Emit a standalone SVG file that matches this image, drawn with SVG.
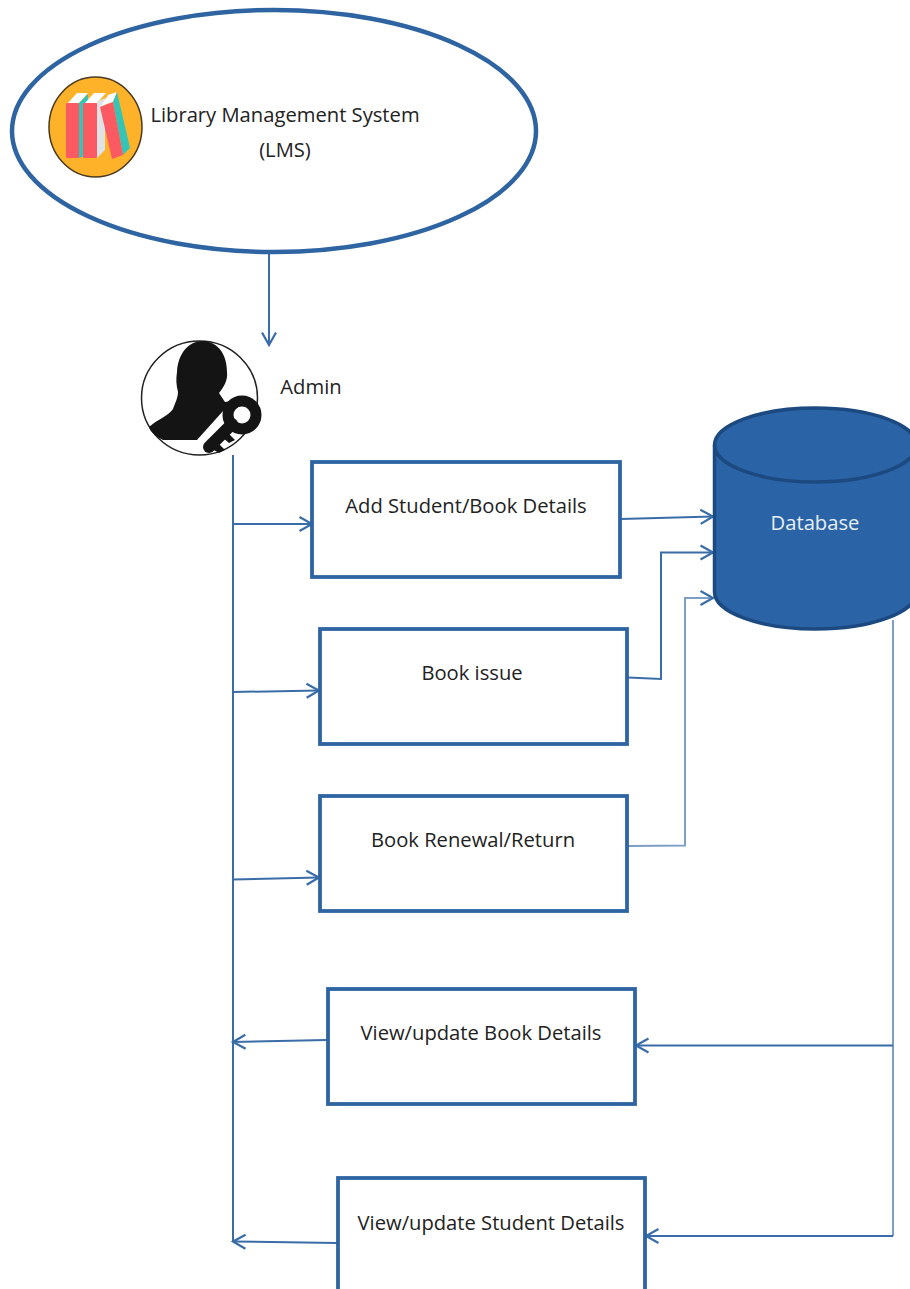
<svg xmlns="http://www.w3.org/2000/svg" width="910" height="1289" viewBox="0 0 910 1289">
<style>
text{font-family:"Open Sans","Noto Sans","Liberation Sans",sans-serif;font-size:20.2px;fill:#222;text-anchor:middle}
.box{fill:#fff;stroke:#2e64a2;stroke-width:3.8}
.c{fill:none;stroke:#3a6ca8;stroke-width:2}
.c2{fill:none;stroke:#7d9fc6;stroke-width:2}
.a{fill:none;stroke:#3a6ca8;stroke-width:2.200}
.db{stroke:#1c4a80;stroke-width:3.500}
</style>
<defs>
<marker id="ar" markerUnits="userSpaceOnUse" markerWidth="18" markerHeight="18" refX="14" refY="9" orient="auto"><path d="M1.500 2L14 9L1.500 16" class="a"/></marker>
</defs>
<rect width="910" height="1289" fill="#fff"/>
<g id="connectors">
<path class="c" d="M269 252V345" marker-end="url(#ar)"/>
<path class="c" d="M233 455V1242"/>
<path class="c" d="M233 524H312" marker-end="url(#ar)"/>
<path class="c" d="M233 692L319 690.500" marker-end="url(#ar)"/>
<path class="c" d="M233 879.500L319 877.500" marker-end="url(#ar)"/>
<path class="c" d="M621 519L713 516.500" marker-end="url(#ar)"/>
<path class="c" d="M628 677.500L661 679V552.500H713" marker-end="url(#ar)"/>
<path class="c2" d="M628 846L685 845.500V598H713" marker-end="url(#ar)"/>
<path class="c2" d="M893 620V1236"/>
<path class="c" d="M893 1045.500H636" marker-end="url(#ar)"/>
<path class="c" d="M893 1236H646" marker-end="url(#ar)"/>
<path class="c" d="M327 1040L233 1042" marker-end="url(#ar)"/>
<path class="c" d="M337 1243L233 1241.500" marker-end="url(#ar)"/>
</g>
<g id="lms">
<ellipse cx="274" cy="131" rx="262" ry="121" fill="#fff" stroke="#2e64a2" stroke-width="4.500"/>
<text x="285" y="121.500">Library Management System</text>
<text x="285" y="156.500">(LMS)</text>
<g id="lms-icon">
<ellipse cx="95.500" cy="127" rx="46.500" ry="50" fill="#fdb22a" stroke="#4a3a20" stroke-width="1.500"/>
<path d="M68 103L77 93H88L79 103Z" fill="#fff"/>
<path d="M79 103L88 94V155L79 158Z" fill="#35c4b5"/>
<rect x="66" y="103" width="13" height="55" rx="1" fill="#fb5a63"/>
<path d="M85 103L94 93H106L97 103Z" fill="#fff"/>
<path d="M97 102L105 98L105 150L97 158Z" fill="#dfe3e6"/>
<rect x="83" y="103" width="14" height="55" rx="1" fill="#fb5a63"/>
<path d="M101 106L108 95L117 92L113 102Z" fill="#fff"/>
<path d="M113 102L117 92L130 148L123 155Z" fill="#35c4b5"/>
<path d="M100 107L113 102L123 155L112 159Z" fill="#fb5a63"/>
</g>
</g>
<g id="admin">
<ellipse cx="199.500" cy="398" rx="58" ry="57" fill="#fff" stroke="#222" stroke-width="1.500"/>
<path d="M177 372C178 352 190 341 202 341C216 341 227 352 227 372C228 380 224 387 219 393L225 402L232 401L197 440L163 440C157 437 150 432 149 427C158 419 168 416 173 409C175 403 178 398 178 392C176 385 176 378 177 372Z" fill="#141414"/>
<circle cx="242" cy="415" r="14" fill="none" stroke="#141414" stroke-width="11"/>
<path d="M232 424L209 447" fill="none" stroke="#141414" stroke-width="12" stroke-linecap="round"/>
<path d="M217 442L225 450L219 453L212 449ZM227 432L235 440L229 443L222 437Z" fill="#141414"/>
<text x="311" y="394">Admin</text>
</g>
<g id="add-details"><rect class="box" x="312" y="462" width="308" height="115"/><text x="466" y="513">Add Student/Book Details</text></g>
<g id="book-issue"><rect class="box" x="320" y="629" width="307" height="115"/><text x="472" y="680">Book issue</text></g>
<g id="book-renewal"><rect class="box" x="320" y="796" width="307" height="115"/><text x="473" y="847">Book Renewal/Return</text></g>
<g id="view-book"><rect class="box" x="328" y="989" width="307" height="115"/><text x="481" y="1040">View/update Book Details</text></g>
<g id="view-student"><rect class="box" x="338" y="1178" width="307" height="115"/><text x="491" y="1230">View/update Student Details</text></g>
<g id="database">
<path class="db" d="M714.500 445V592A101 37 0 0 0 916.500 592V445A101 37 0 0 0 714.500 445Z" fill="#2a64a6"/>
<path class="db" d="M714.500 445A101 37 0 0 0 916.500 445" fill="none"/>
<text x="815" y="530" style="fill:#e8eef6">Database</text>
</g>
</svg>
